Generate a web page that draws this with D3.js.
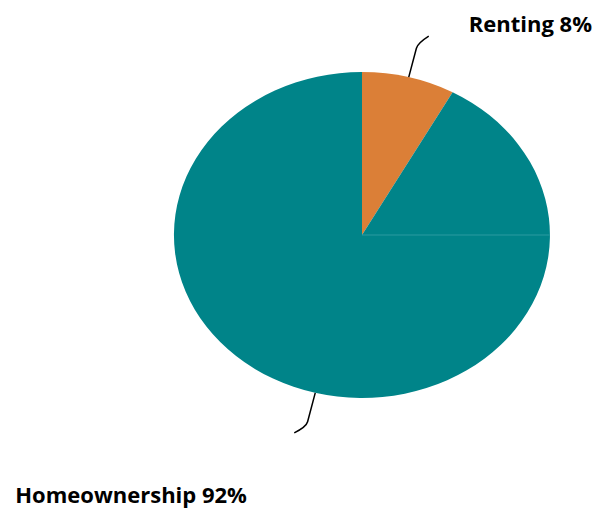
<!DOCTYPE html>
<html>
<head>
<meta charset="utf-8">
<script src="https://cdn.jsdelivr.net/npm/d3@7"></script>
<style>
  body { margin: 0; background: #fff; }
  text { font-family: "Open Sans", sans-serif; font-weight: bold; fill: #000; }
</style>
</head>
<body>
<svg width="608" height="510"></svg>
<script>
//	data
var categories = ["Renting", "Homeownership"];
var shares = [8, 92];
var labels = ["Renting 8%", "Homeownership 92%"];
var colors = ["#DB7F37", "#008489"];

//	layout of the stretched pie
var cx = 362, cy = 235,
	rx = 188, ry = 163;
var svg = d3.select("svg");

var pie = d3.pie().sort(null).value(function(d) { return d; });
var arcs = pie(shares);
//	draw with unit radius then stretch into the ellipse
var arc = d3.arc().innerRadius(0).outerRadius(1);

var g = svg.append("g")
	.attr("transform", "translate(" + cx + "," + cy + ")");

g.append("g")
	.attr("transform", "scale(" + rx + "," + ry + ")")
	.selectAll("path")
	.data(arcs)
	.enter().append("path")
		.attr("d", arc)
		.attr("fill", function(d, i) { return colors[i]; });

//	faint seam at 3 o'clock as in the original
g.append("line")
	.attr("x1", 0).attr("y1", 0)
	.attr("x2", rx).attr("y2", 0)
	.attr("stroke", "#2a9aa0")
	.attr("stroke-width", 1);

//	point on the ellipse rim at the middle of a slice
function rim(d) {
	var a = (d.startAngle + d.endAngle) / 2;
	return [rx * Math.sin(a), -ry * Math.cos(a)];
}

//	leader lines: go out, then a short hook towards the label
var leaders = [
	{out: [9, -34], hook: [11, -7], text: [60, -45]},
	{out: [-9, 34], hook: [-12, 6], text: [-300, 110]}
];

arcs.forEach(function(d, i) {
	var p = rim(d), L = leaders[i];
	var p1 = [p[0] + L.out[0], p[1] + L.out[1]];
	var p2 = [p1[0] + L.hook[0], p1[1] + L.hook[1]];
	var path = d3.path();
	path.moveTo(p[0], p[1]);
	path.lineTo(p1[0] - L.out[0] * 0.15, p1[1] - L.out[1] * 0.15);
	path.quadraticCurveTo(p1[0], p1[1], p2[0], p2[1]);
	g.append("path")
		.attr("d", path.toString())
		.attr("fill", "none")
		.attr("stroke", "#000")
		.attr("stroke-width", 1.5);
	g.append("text")
		.attr("x", p[0] + L.text[0])
		.attr("y", p[1] + L.text[1])
		.style("font-size", "22px")
		.text(labels[i]);
});
</script>
</body>
</html>
